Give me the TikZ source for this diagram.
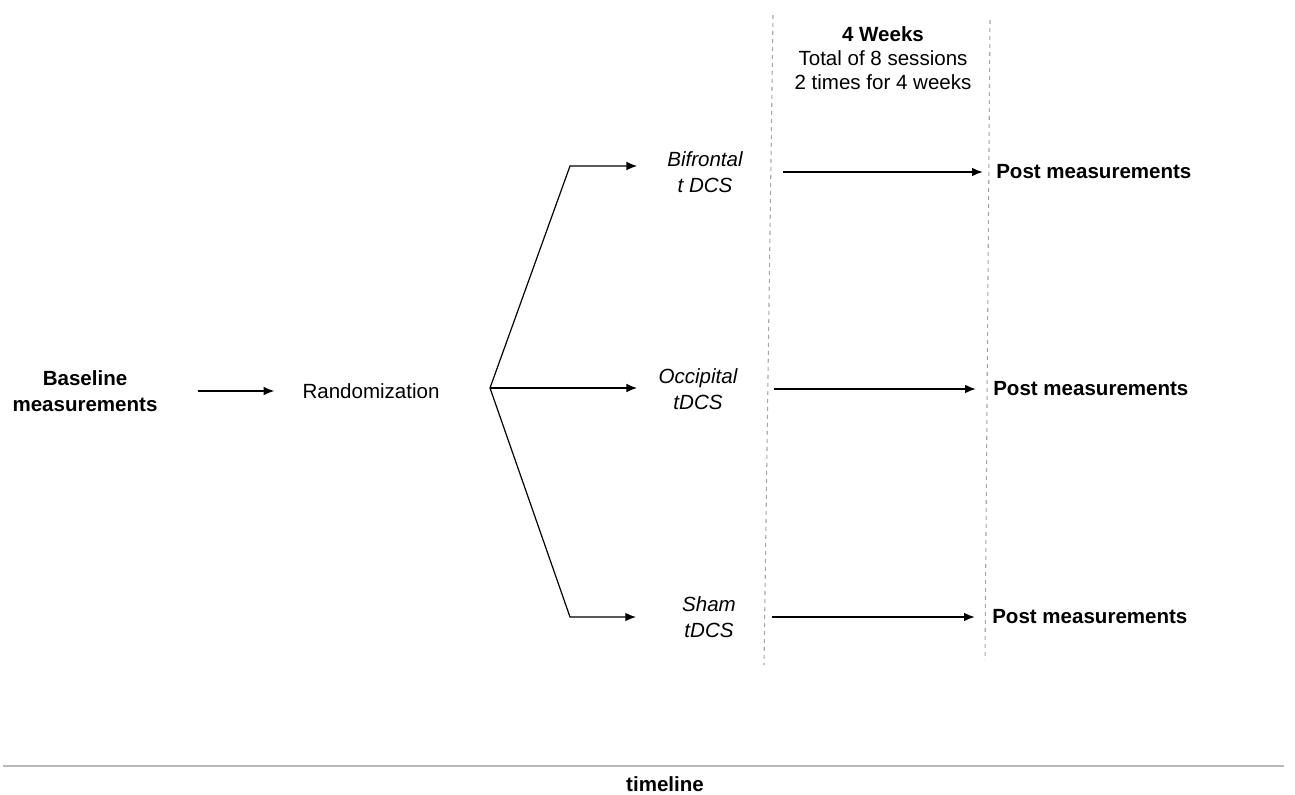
\documentclass[tikz,border=0pt]{standalone}
\usepackage{fontspec}
\setmainfont{Liberation Sans}
\usetikzlibrary{arrows.meta,positioning}

\tikzset{
  txt/.style={font=\fontsize{15.4}{19.5}\selectfont,align=center,inner sep=0pt},
  boldtxt/.style={txt,font=\fontsize{15.4}{19.5}\selectfont\bfseries},
  treat/.style={txt,font=\fontsize{15.4}{19.5}\selectfont\itshape},
  arr/.style={draw,line width=0.9pt,-{Latex[length=8pt,width=6.5pt]}},
  period/.style={draw=gray!70,dashed,line width=0.8pt}
}

\begin{document}
\begin{tikzpicture}[x=0.75pt,y=-0.75pt]
  \useasboundingbox (0,0) rectangle (1295,795);

  % left part
  \node[boldtxt] (base) at (85,391) {Baseline\\measurements};
  \node[txt] (rand) at (371,391) {Randomization};
  \coordinate (br) at (490,388);
  \coordinate (k1) at (570,166);
  \coordinate (k3) at (570,617);

  % arms
  \node[treat] (bif) at (705,172) {Bifrontal\\t DCS};
  \node[treat] (occ) at (698,389) {Occipital\\tDCS};
  \node[treat] (sham) at (709,617) {Sham\\tDCS};

  % header and posts
  \node[txt,font=\fontsize{15.4}{18}\selectfont] (head) at (883,58) {\textbf{4 Weeks}\\Total of 8 sessions\\2 times for 4 weeks};
  \node[boldtxt,anchor=west] (post1) at (996,172) {Post measurements};
  \node[boldtxt,anchor=west] (post2) at (993,389) {Post measurements};
  \node[boldtxt,anchor=west] (post3) at (992,617) {Post measurements};

  % week borders
  \path[period] (773,15) -- (764,665);
  \path[period] (990,20) -- (985,660);

  \begin{scope}[every edge/.style={arr}]
    \path (base) edge[shorten <=30pt,shorten >=21pt] (rand);
    \path (bif) edge[shorten <=30pt,shorten >=10pt] (post1);
    \path (occ) edge[shorten <=27pt,shorten >=13pt] (post2);
    \path (sham) edge[shorten <=27pt,shorten >=13pt] (post3);
  \end{scope}
  \draw[arr,shorten >=16pt] (br) -- (br -| occ.west);
  \draw[arr,shorten >=22.5pt] (br) -- (k1) -- (k1 -| bif.west);
  \draw[arr,shorten >=34.5pt] (br) -- (k3) -- (k3 -| sham.west);

  % timeline
  \draw[gray!55,line width=2.2pt] (3,766) -- (1284,766);
  \node[boldtxt] (time) at (665,784) {timeline};
\end{tikzpicture}
\end{document}
